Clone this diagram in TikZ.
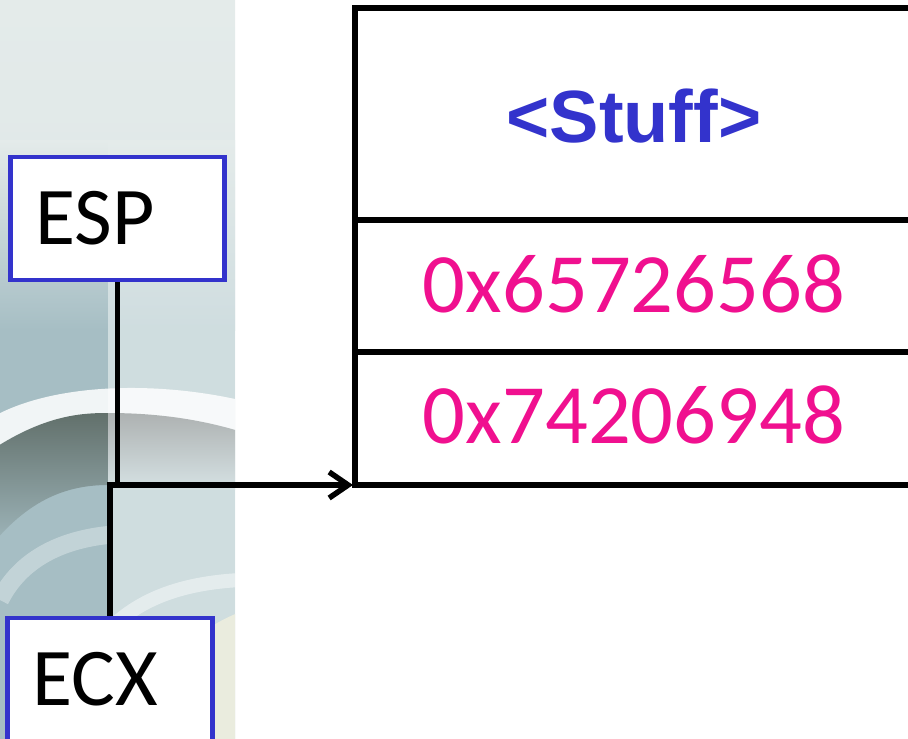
\documentclass[tikz,border=0pt]{standalone}
\usepackage{fontspec}
\setmainfont{Carlito}
\newfontfamily\headfont{Liberation Sans}
\usetikzlibrary{arrows.meta}

\definecolor{regblue}{RGB}{51,51,204}
\definecolor{hexpink}{RGB}{240,16,143}
\definecolor{bgtop}{RGB}{228,235,234}
\definecolor{bgteal}{RGB}{166,190,196}
\definecolor{bglight}{RGB}{214,226,228}
\definecolor{bgdark}{RGB}{122,140,134}
\definecolor{bggrey}{RGB}{204,209,209}
\definecolor{bgcream}{RGB}{234,236,222}

\tikzset{
  regbox/.style={draw=regblue, line width=4.5pt, fill=white, minimum width=214pt,
    minimum height=123pt, text width=164pt, inner xsep=25pt, align=left,
    font=\fontsize{82}{85}\selectfont},
  conn/.style={line width=5.5pt, draw=black},
  grid/.style={line width=5.5pt, draw=black},
  hexval/.style={text=hexpink, font=\fontsize{84.5}{87}\selectfont},
  stufftext/.style={text=regblue, font=\headfont\bfseries\fontsize{74}{76}\selectfont},
}

\begin{document}
\begin{tikzpicture}[x=1pt, y=-1pt]
  \useasboundingbox (0,0) rectangle (908,739);

  % photographic backdrop strip on the left
  \begin{scope}
    \clip (0,0) rectangle (235,739);
    \shade[top color=bgtop, bottom color=bglight] (0,0) rectangle (235,739);
    % darker teal on the left half, fading in from above
    \shade[top color=bgtop, bottom color=bgteal] (0,140) rectangle (108,330);
    \fill[bgteal] (0,329) rectangle (108,739);
    \shade[top color=bgtop, bottom color=bglight!85!bgteal] (108,140) rectangle (235,330);
    \fill[bglight!85!bgteal] (108,329) rectangle (235,739);
    % bright rim of the ring
    \fill[white, opacity=0.85] (-20,425) .. controls (40,382) and (160,378) .. (260,405)
      -- (260,438) .. controls (160,412) and (40,415) .. (-20,458) -- cycle;
    % shadowed inner band
    \shade[top color=bgdark!80!black, bottom color=bgteal] (-20,458) .. controls (40,415) and (80,413) .. (108,413)
      -- (108,485) .. controls (60,485) and (20,505) .. (-20,560) -- cycle;
    \shade[top color=bggrey!85!black, bottom color=bglight] (108,413) .. controls (160,413) and (210,420) .. (260,438)
      -- (260,490) -- (108,490) -- cycle;
    % lower part of the ring
    \draw[white, line width=14pt, opacity=0.45] (60,739) .. controls (80,620) and (150,585) .. (240,580);
    \draw[bglight, line width=18pt, opacity=0.6] (0,600) .. controls (20,560) and (60,540) .. (108,535);
    \fill[bgcream] (140,739) .. controls (160,660) and (195,625) .. (260,605)
      -- (260,739) -- cycle;
  \end{scope}

  % stack memory cells
  \draw[grid] (930,8) -- (355,8) -- (355,485) -- (930,485);
  \draw[grid] (355,220) -- (930,220);
  \draw[grid] (355,352) -- (930,352);
  \coordinate (stackbase) at (353,485);

  \node[stufftext] (stuff) at (634,116) {<Stuff>};
  \node[hexval] (hexa) at (634,284) {0x65726568};
  \node[hexval] (hexb) at (634,415) {0x74206948};

  % registers
  \node[regbox] (esp) at (117.5,218.5) {ESP};
  \node[regbox, minimum width=205pt, text width=155pt] (ecx) at (110,679.5) {ECX};

  % pointers into the stack
  \draw[conn] (esp.south) -- (esp.south |- stackbase);
  \draw[conn, -{Straight Barb[length=19pt, width=26pt, line width=5.5pt]}]
    (ecx.north) |- (stackbase);
\end{tikzpicture}
\end{document}
